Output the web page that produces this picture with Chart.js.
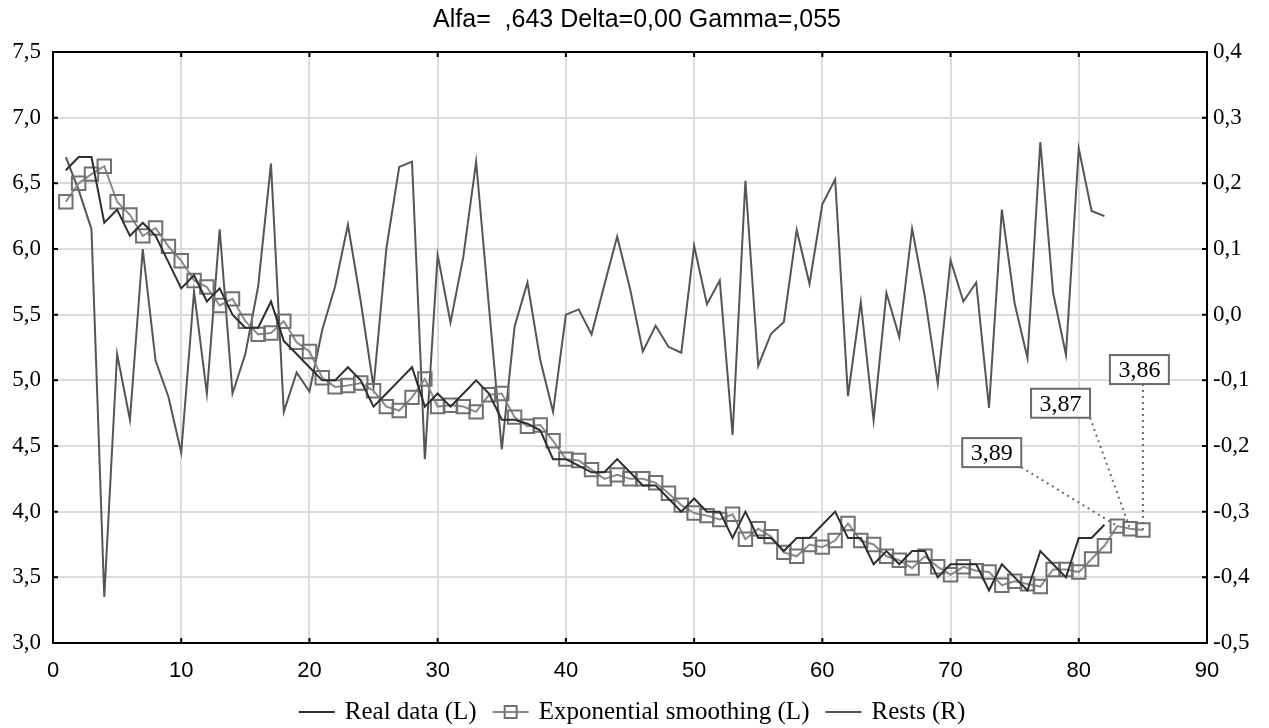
<!DOCTYPE html>
<html>
<head>
<meta charset="utf-8">
<script src="https://cdn.jsdelivr.net/npm/chart.js@4.4.1/dist/chart.umd.min.js"></script>
<style>
  html, body { margin: 0; padding: 0; background: #fff; }
</style>
</head>
<body>
<canvas id="grafica" width="1269" height="728"></canvas>
<script>
// series, index 1..n on the x axis
const realData = [
  6.60, 6.70, 6.70, 6.20, 6.30, 6.10, 6.20, 6.10, 5.90, 5.70,
  5.80, 5.60, 5.70, 5.50, 5.40, 5.40, 5.60, 5.30, 5.20, 5.10,
  5.00, 5.00, 5.10, 5.00, 4.80, 4.90, 5.00, 5.10, 4.80, 4.90,
  4.80, 4.90, 5.00, 4.90, 4.70, 4.70, 4.67, 4.62, 4.40, 4.40,
  4.35, 4.30, 4.30, 4.40, 4.30, 4.20, 4.20, 4.10, 4.00, 4.10,
  4.00, 4.00, 3.80, 4.00, 3.80, 3.80, 3.70, 3.80, 3.80, 3.90,
  4.00, 3.80, 3.80, 3.60, 3.70, 3.60, 3.70, 3.70, 3.50, 3.60,
  3.60, 3.60, 3.40, 3.60, 3.50, 3.40, 3.70, 3.60, 3.50, 3.80,
  3.80, 3.90
];
const smoothing = [
  6.36, 6.50, 6.57, 6.63, 6.36, 6.26, 6.10, 6.16, 6.02, 5.91,
  5.76, 5.71, 5.57, 5.62, 5.45, 5.35, 5.36, 5.45, 5.29, 5.22,
  5.02, 4.95, 4.96, 4.98, 4.92, 4.80, 4.77, 4.87, 5.01, 4.80,
  4.81, 4.80, 4.76, 4.89, 4.90, 4.72, 4.65, 4.66, 4.54, 4.40,
  4.39, 4.32, 4.25, 4.28, 4.25, 4.25, 4.22, 4.14, 4.05, 3.99,
  3.97, 3.94, 3.98, 3.79, 3.87, 3.81, 3.69, 3.66, 3.75, 3.73,
  3.78, 3.91, 3.78, 3.75, 3.66, 3.63, 3.57, 3.66, 3.58, 3.52,
  3.58, 3.55, 3.54, 3.44, 3.47, 3.45, 3.43, 3.56, 3.56, 3.54,
  3.64, 3.74, 3.89, 3.87, 3.86
];
const rests = [
  0.240, 0.190, 0.130, -0.430, -0.060, -0.160, 0.100, -0.070, -0.125, -0.210,
  0.035, -0.120, 0.130, -0.120, -0.060, 0.043, 0.230, -0.148, -0.088, -0.117,
  -0.023, 0.043, 0.137, 0.020, -0.110, 0.101, 0.225, 0.233, -0.220, 0.091,
  -0.012, 0.088, 0.233, 0.012, -0.205, -0.018, 0.049, -0.069, -0.148, 0.000,
  0.008, -0.030, 0.045, 0.119, 0.040, -0.056, -0.017, -0.049, -0.058, 0.105,
  0.016, 0.052, -0.183, 0.204, -0.078, -0.029, -0.011, 0.129, 0.047, 0.168,
  0.206, -0.124, 0.019, -0.161, 0.033, -0.034, 0.131, 0.027, -0.105, 0.083,
  0.020, 0.049, -0.142, 0.160, 0.017, -0.066, 0.263, 0.033, -0.061, 0.253,
  0.158, 0.150
];
// forecast labels on the last three smoothing points
const forecastIdx = [83, 84, 85];
const forecastText = ['3,89', '3,87', '3,86'];
const seriesNames = ['Real data (L)', 'Exponential smoothing (L)', 'Rests (R)'];
const titulo = 'Alfa=  ,643 Delta=0,00 Gamma=,055';

const serif = 'Liberation Serif, Times New Roman, serif';
const sans = 'Liberation Sans, Arial, sans-serif';
const coma = v => Math.abs(v) < 1e-9 ? '0,0' : v.toFixed(1).replace('.', ',');
const toPoints = arr => arr.map((v, i) => ({ x: i + 1, y: v }));

// box offsets from the point (px) for the forecast labels
const boxOffsets = [[-155, -88], [-99, -140], [-33, -175]];

const marco = {
  id: 'marco',
  afterDatasetsDraw(chart) {
    const c = chart.ctx;
    const a = chart.chartArea;
    const sx = chart.scales.x, sy = chart.scales.y, sy2 = chart.scales.y2;
    c.save();
    // frame
    c.strokeStyle = '#000';
    c.lineWidth = 2;
    c.strokeRect(a.left, a.top, a.right - a.left, a.bottom - a.top);
    // inward ticks
    c.beginPath();
    sx.ticks.forEach(t => {
      const px = sx.getPixelForValue(t.value);
      c.moveTo(px, a.bottom); c.lineTo(px, a.bottom - 5);
      c.moveTo(px, a.top); c.lineTo(px, a.top + 5);
    });
    sy.ticks.forEach(t => {
      const py = sy.getPixelForValue(t.value);
      c.moveTo(a.left, py); c.lineTo(a.left + 5, py);
    });
    sy2.ticks.forEach(t => {
      const py = sy2.getPixelForValue(t.value);
      c.moveTo(a.right, py); c.lineTo(a.right - 5, py);
    });
    c.stroke();

    // forecast labels
    const meta = chart.getDatasetMeta(1);
    c.font = '24px ' + serif;
    forecastIdx.forEach((n, k) => {
      const p = meta.data[n - 1];
      const w = 59, h = 29;
      const left = p.x + boxOffsets[k][0], top = p.y + boxOffsets[k][1];
      const ax = Math.min(Math.max(p.x, left), left + w);
      c.setLineDash([2, 4]);
      c.strokeStyle = '#6a6a6a';
      c.lineWidth = 2;
      c.beginPath();
      c.moveTo(ax, top + h); c.lineTo(p.x, p.y);
      c.stroke();
      c.setLineDash([]);
      c.fillStyle = '#fff';
      c.fillRect(left, top, w, h);
      c.strokeRect(left, top, w, h);
      c.fillStyle = '#000';
      c.textAlign = 'center';
      c.textBaseline = 'middle';
      c.fillText(forecastText[k], left + w / 2, top + h / 2 + 1);
    });
    c.restore();
  },
  afterDraw(chart) {
    const c = chart.ctx;
    c.save();
    // title
    c.font = '25px ' + sans;
    c.fillStyle = '#000';
    c.textAlign = 'center';
    c.textBaseline = 'middle';
    c.fillText(titulo, 637, 20);

    // legend
    c.font = '25px ' + serif;
    const symW = 36, gapT = 10, gapI = 16;
    const widths = seriesNames.map(s => c.measureText(s).width);
    const total = widths.reduce((s, w) => s + w, 0) + 3 * (symW + gapT) + 2 * gapI;
    let x = 632 - total / 2;
    const y = 712;
    const colores = ['#2e2e2e', '#8a8a8a', '#555'];
    seriesNames.forEach((s, k) => {
      c.strokeStyle = colores[k];
      c.lineWidth = 2;
      c.beginPath();
      c.moveTo(x, y); c.lineTo(x + symW, y);
      c.stroke();
      if (k === 1) {
        c.strokeStyle = '#707070';
        c.strokeRect(x + symW / 2 - 6, y - 6, 12, 12);
      }
      x += symW + gapT;
      c.fillStyle = '#000';
      c.textAlign = 'left';
      c.fillText(s, x, y);
      x += widths[k] + gapI;
    });
    c.restore();
  }
};

let grafico = new Chart(document.getElementById('grafica').getContext('2d'), {
  type: 'line',
  data: {
    datasets: [
      {
        label: seriesNames[0], data: toPoints(realData), yAxisID: 'y',
        borderColor: '#2e2e2e', borderWidth: 2, pointRadius: 0, tension: 0
      },
      {
        label: seriesNames[1], data: toPoints(smoothing), yAxisID: 'y',
        borderColor: '#8a8a8a', borderWidth: 2, pointStyle: 'rect', pointRadius: 9.5,
        pointBorderColor: '#707070', pointBorderWidth: 2, pointBackgroundColor: 'rgba(0,0,0,0)'
      },
      {
        label: seriesNames[2], data: toPoints(rests), yAxisID: 'y2',
        borderColor: '#555', borderWidth: 2, pointRadius: 0, tension: 0
      }
    ]
  },
  options: {
    responsive: false,
    animation: false,
    layout: { padding: { top: 52, left: 0, right: 0, bottom: 0 } },
    plugins: {
      legend: { display: false },
      title: { display: false },
      tooltip: { enabled: false }
    },
    scales: {
      x: {
        type: 'linear', min: 0, max: 90,
        ticks: { stepSize: 10, maxRotation: 0, color: '#000', padding: 15,
                 font: { family: sans, size: 22 } },
        grid: { color: '#dcdcdc', lineWidth: 2, drawTicks: false },
        border: { display: false },
        afterFit: s => { s.height = 85; }
      },
      y: {
        position: 'left', min: 3, max: 7.5,
        ticks: { stepSize: 0.5, color: '#000', padding: 12, callback: v => coma(v),
                 font: { family: serif, size: 23 } },
        grid: { color: '#dcdcdc', lineWidth: 2, drawTicks: false },
        border: { display: false },
        afterFit: s => { s.width = 53; }
      },
      y2: {
        position: 'right', min: -0.5, max: 0.4,
        ticks: { stepSize: 0.1, color: '#000', padding: 6, callback: v => coma(v),
                 font: { family: serif, size: 23 } },
        grid: { drawOnChartArea: false, drawTicks: false },
        border: { display: false },
        afterFit: s => { s.width = 62; }
      }
    }
  },
  plugins: [marco]
});
</script>
</body>
</html>
